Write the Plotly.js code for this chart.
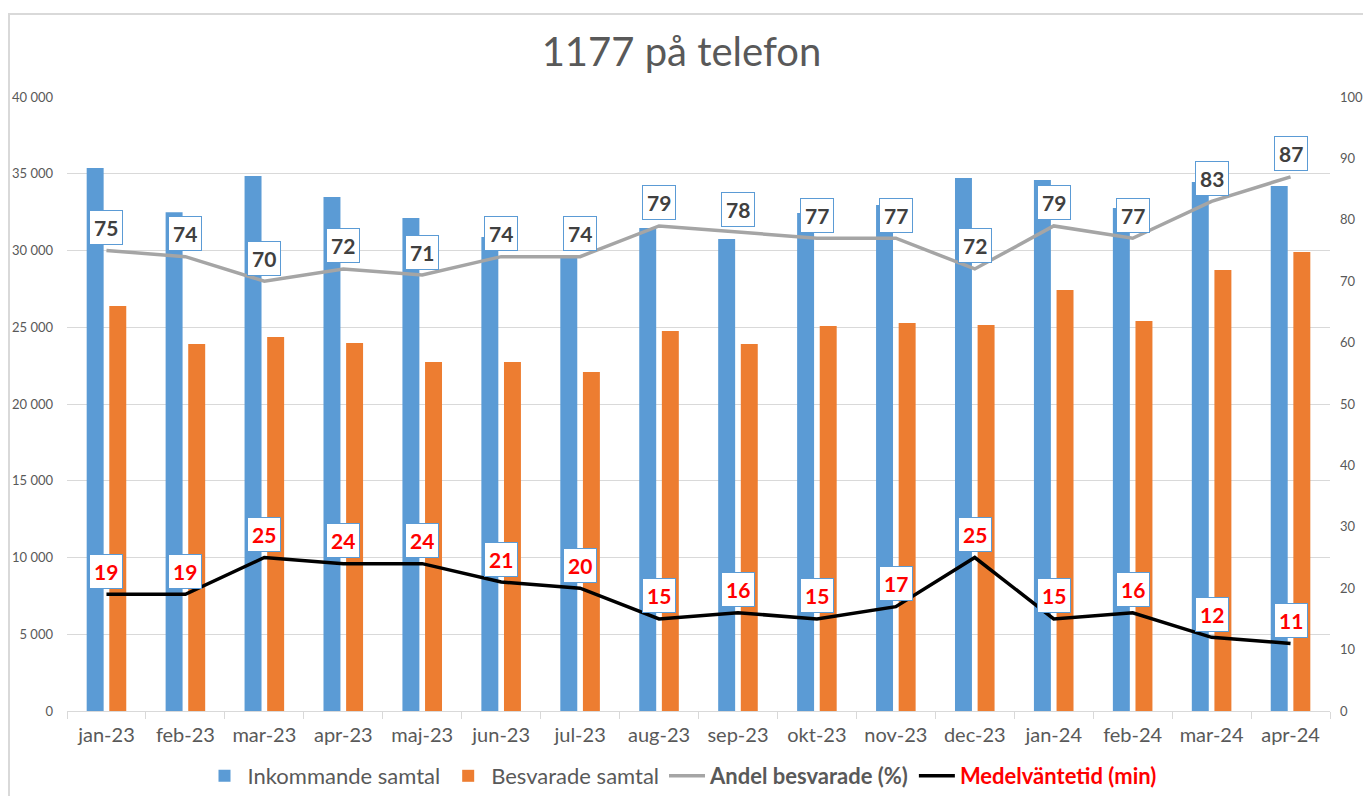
<!DOCTYPE html>
<html>
<head>
<meta charset="utf-8">
<script src="https://cdn.plot.ly/plotly-3.0.1.min.js"></script>
<style>
  html, body { margin: 0; padding: 0; background: #fff; }
  #wrap { position: relative; width: 1363px; height: 796px; }
  #chart { width: 1363px; height: 796px; }
  #frame { position: absolute; left: 8px; top: 13px; right: 0; bottom: 0;
           border-left: 2px solid #d9d9d9; border-top: 2px solid #d9d9d9; pointer-events: none; }
</style>
</head>
<body>
<div id="wrap">
  <div id="chart"></div>
  <div id="frame"></div>
</div>
<script>
const categories = ["jan-23","feb-23","mar-23","apr-23","maj-23","jun-23","jul-23","aug-23",
                    "sep-23","okt-23","nov-23","dec-23","jan-24","feb-24","mar-24","apr-24"];
const inkommande = [35370, 32500, 34860, 33490, 32120, 30880, 29700, 31470,
                    30750, 32440, 32960, 34720, 34590, 32770, 34460, 34200];
const besvarade  = [26380, 23910, 24360, 23970, 22740, 22740, 22080, 24750,
                    23910, 25080, 25280, 25150, 27430, 25410, 28730, 29900];
const andel      = [75, 74, 70, 72, 71, 74, 74, 79, 78, 77, 77, 72, 79, 77, 83, 87];
const vantetid   = [19, 19, 25, 24, 24, 21, 20, 15, 16, 15, 17, 25, 15, 16, 12, 11];
const leftTicks  = [0, 5000, 10000, 15000, 20000, 25000, 30000, 35000, 40000];
const rightTicks = [0, 10, 20, 30, 40, 50, 60, 70, 80, 90, 100];

const FONT = "Lato, 'Open Sans', sans-serif";
const GREY_TXT = "#595959";

const traces = [
  { type: "bar", name: "Inkommande samtal", x: categories, y: inkommande,
    marker: { color: "#5B9BD5" }, yaxis: "y", hoverinfo: "x+y" },
  { type: "bar", name: "Besvarade samtal", x: categories, y: besvarade,
    marker: { color: "#ED7D31" }, yaxis: "y", hoverinfo: "x+y" },
  { type: "scatter", mode: "lines", name: "<b>Andel besvarade (%)</b>", x: categories, y: andel,
    line: { color: "#A5A5A5", width: 3.5 }, yaxis: "y2" },
  { type: "scatter", mode: "lines", name: "<b><span style='color:#FF0000'>Medelväntetid (min)</span></b>",
    x: categories, y: vantetid, line: { color: "#000000", width: 3.5 }, yaxis: "y2" }
];

const annotations = [];
categories.forEach((c, i) => {
  annotations.push({
    x: c, y: andel[i], xref: "x", yref: "y2", text: "<b>" + andel[i] + "</b>",
    showarrow: false, yanchor: "middle", yshift: 23,
    font: { family: FONT, size: 21, color: "#404040" },
    bgcolor: "#ffffff", bordercolor: "#5B9BD5", borderwidth: 1, borderpad: 4
  });
  annotations.push({
    x: c, y: vantetid[i], xref: "x", yref: "y2", text: "<b>" + vantetid[i] + "</b>",
    showarrow: false, yanchor: "middle", yshift: 23,
    font: { family: FONT, size: 21, color: "#FF0000" },
    bgcolor: "#ffffff", bordercolor: "#5B9BD5", borderwidth: 1, borderpad: 4
  });
});

const layout = {
  width: 1363, height: 796,
  margin: { l: 67, r: 33, t: 97, b: 85 },
  paper_bgcolor: "#ffffff", plot_bgcolor: "#ffffff",
  font: { family: FONT, color: GREY_TXT },
  separators: ", ",
  title: { text: "1177 på telefon", x: 0.5, xanchor: "center", y: 1 - 52/796, yanchor: "middle",
           yref: "container", font: { family: FONT, size: 40, color: GREY_TXT } },
  barmode: "group", bargap: 0.427, bargroupgap: 0.25,
  showlegend: true,
  legend: { orientation: "h", x: 0.5, xanchor: "center", xref: "container",
            y: 1 - 776/796, yanchor: "middle", yref: "container", itemwidth: 36,
            font: { family: FONT, size: 22, color: GREY_TXT }, traceorder: "normal" },
  xaxis: { type: "category", showgrid: false, showline: true, linecolor: "#d9d9d9", linewidth: 1,
           ticks: "outside", tickson: "boundaries", ticklen: 7, tickcolor: "#d9d9d9",
           tickfont: { family: FONT, size: 20, color: GREY_TXT }, ticklabelstandoff: 6 },
  yaxis: { range: [0, 40000], tickvals: leftTicks, tickformat: ",d", showgrid: true,
           gridcolor: "#d9d9d9", gridwidth: 1, zeroline: false, showline: false,
           tickfont: { family: FONT, size: 13, color: GREY_TXT }, ticklabelstandoff: 13 },
  yaxis2: { range: [0, 100], tickvals: rightTicks, overlaying: "y", side: "right",
            showgrid: false, zeroline: false, showline: false,
            tickfont: { family: FONT, size: 13, color: GREY_TXT }, ticklabelstandoff: 9 },
  annotations: annotations
};

Plotly.newPlot("chart", traces, layout, { displayModeBar: false, staticPlot: true });
</script>
</body>
</html>
